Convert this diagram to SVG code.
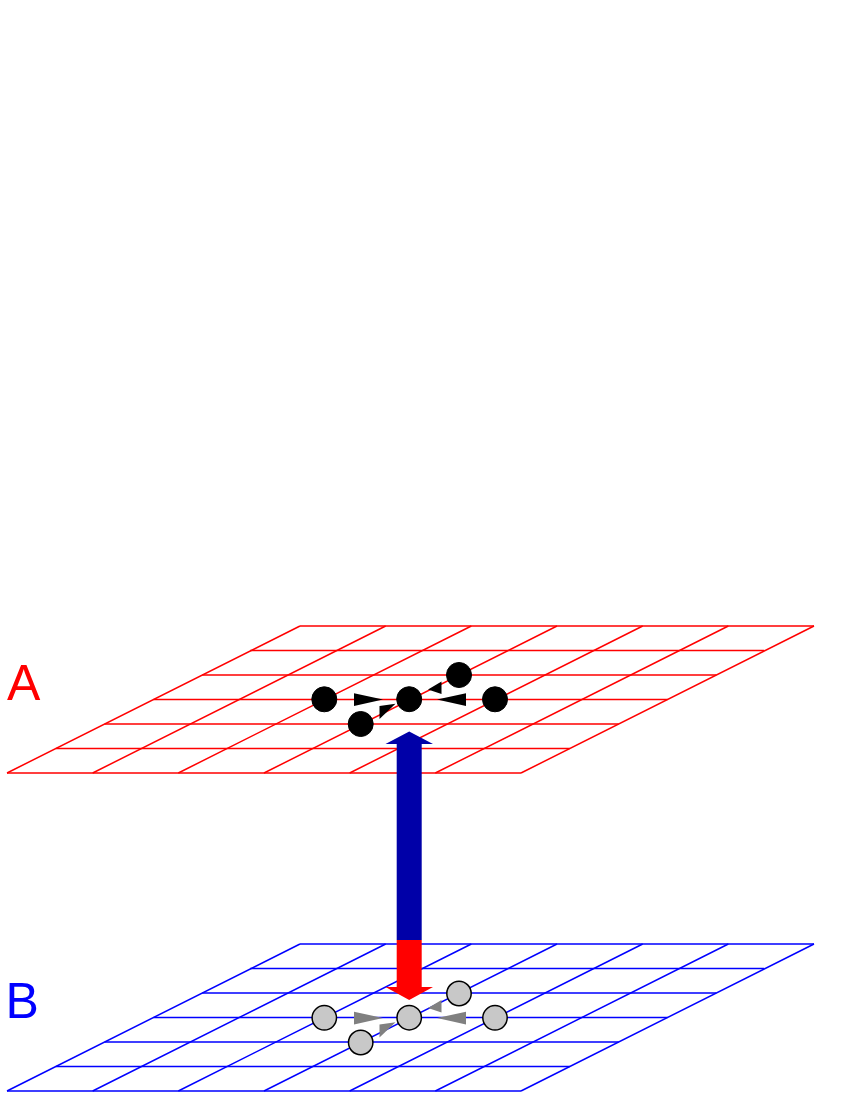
<svg xmlns="http://www.w3.org/2000/svg" width="850" height="1100" viewBox="0 0 850 1100">
  <style>
    .gridA { fill: none; stroke: #ff0000; stroke-width: 1.5; }
    .gridB { fill: none; stroke: #0000ff; stroke-width: 1.5; }
    .nodeA { fill: #000000; stroke: #000000; stroke-width: 1; }
    .nodeB { fill: #c8c8c8; stroke: #000000; stroke-width: 1.5; }
    .triA { fill: #000000; }
    .triB { fill: #808080; }
    .label { font-family: "Liberation Sans", Arial, sans-serif; font-size: 50px; }
  </style>
  <rect width="850" height="1100" fill="#ffffff"/>

  <g id="plane-A" class="gridA">
    <path d="M300,626H814 M250.2,650.5H764.2 M202.3,675H716.3 M153.5,699.5H667.5 M104.7,724H618.7 M55.8,748.5H569.8 M7,773H521"/>
    <path d="M7,773L300,626 M92.67,773L385.67,626 M178.33,773L471.33,626 M264,773L557,626 M349.67,773L642.67,626 M435.33,773L728.33,626 M521,773L814,626"/>
  </g>

  <g id="plane-B" class="gridB" transform="translate(0,318)">
    <path d="M300,626H814 M250.2,650.5H764.2 M202.3,675H716.3 M153.5,699.5H667.5 M104.7,724H618.7 M55.8,748.5H569.8 M7,773H521"/>
    <path d="M7,773L300,626 M92.67,773L385.67,626 M178.33,773L471.33,626 M264,773L557,626 M349.67,773L642.67,626 M435.33,773L728.33,626 M521,773L814,626"/>
  </g>

  <g id="label-A"><text class="label" x="7" y="700" fill="#ff0000">A</text></g>
  <g id="label-B"><text class="label" x="5.5" y="1017.5" fill="#0000ff">B</text></g>

  <g id="mapping-arrow">
    <polygon fill="#0000a8" points="409.2,731.5 433,744 421.7,744 421.7,940 396.7,940 396.7,744 385.5,744"/>
    <polygon fill="#ff0000" points="396.7,940 421.7,940 421.7,987 433,987 409.2,1000 385.5,987 396.7,987"/>
  </g>

  <g id="connectors">
    <g id="edges-A" class="triA">
      <polygon points="354,693.2 354,706 383,699.5"/>
      <polygon points="466,693.2 466,706 437,699.5"/>
      <polygon points="379.5,706 379.5,719 395.5,703.8"/>
      <polygon points="441.5,681.5 441.5,694 428,689.5"/>
    </g>
    <g id="edges-B" class="triB" transform="translate(0,318.5)">
      <polygon points="354,693.2 354,706 383,699.5"/>
      <polygon points="466,693.2 466,706 437,699.5"/>
      <polygon points="379.5,706 379.5,719 395.5,703.8"/>
      <polygon points="441.5,681.5 441.5,694 428,689.5"/>
    </g>
  </g>

  <g id="node-A1"><circle class="nodeA" cx="324.3" cy="699.3" r="12.5"/></g>
  <g id="node-A2"><circle class="nodeA" cx="409.2" cy="699.2" r="12.5"/></g>
  <g id="node-A3"><circle class="nodeA" cx="495" cy="699.3" r="12.5"/></g>
  <g id="node-A4"><circle class="nodeA" cx="459" cy="675" r="12.5"/></g>
  <g id="node-A5"><circle class="nodeA" cx="360.7" cy="724" r="12.5"/></g>

  <g id="node-B1"><circle class="nodeB" cx="324.3" cy="1017.8" r="12.2"/></g>
  <g id="node-B2"><circle class="nodeB" cx="409.2" cy="1017.7" r="12.2"/></g>
  <g id="node-B3"><circle class="nodeB" cx="495" cy="1017.8" r="12.2"/></g>
  <g id="node-B4"><circle class="nodeB" cx="459" cy="993.5" r="12.2"/></g>
  <g id="node-B5"><circle class="nodeB" cx="360.7" cy="1042.5" r="12.2"/></g>
</svg>
